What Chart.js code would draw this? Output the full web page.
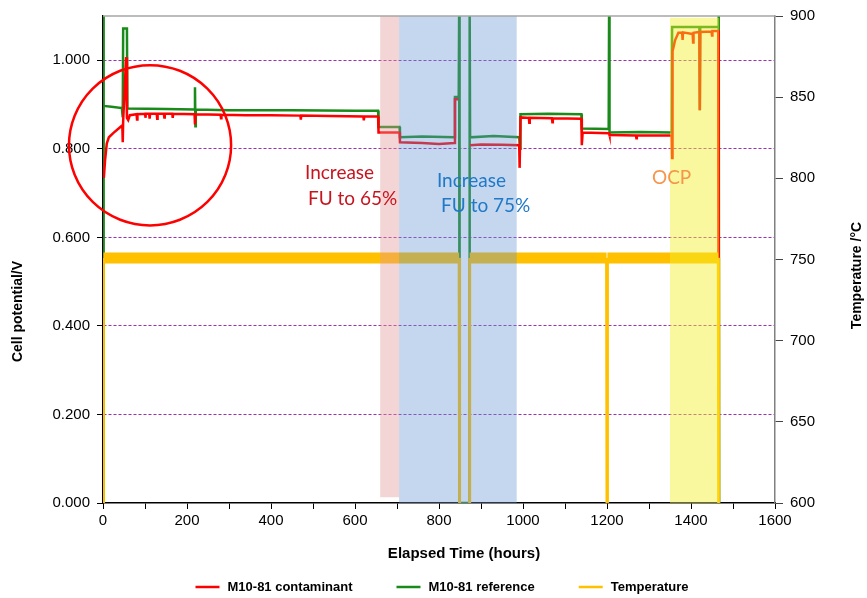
<!DOCTYPE html>
<html>
<head>
<meta charset="utf-8">
<script src="https://cdn.jsdelivr.net/npm/chart.js@4.4.1/dist/chart.umd.min.js"></script>
<style>
  html, body { margin: 0; padding: 0; background: #fff; }
  #chart { display: block; }
</style>
</head>
<body>
<canvas id="chart" width="867" height="598"></canvas>
<script>
// M10-81 contaminant cell potential (V)
const contHours = [
  2, 5, 9, 14, 25, 40, 46, 47, 48, 55,
  57, 60, 64, 80, 81, 82, 100, 101, 102, 110,
  111, 112, 128, 129, 130, 145, 146, 147, 165, 166,
  167, 218, 219, 220, 280, 281, 282, 340, 400, 470,
  471, 472, 540, 620, 621, 622, 655, 656, 706, 707,
  760, 800, 837, 838, 846, 847, 874, 900, 950, 991,
  992, 994, 1014, 1015, 1016, 1069, 1070, 1071, 1139, 1140,
  1142, 1205, 1206, 1269, 1270, 1271, 1354, 1355, 1356, 1362,
  1370, 1379, 1380, 1381, 1400, 1404, 1405, 1406, 1420, 1421,
  1422, 1449, 1450, 1451, 1465, 1466
];
const contVolts = [
  0.734, 0.775, 0.812, 0.826, 0.836, 0.848, 0.853, 0.815, 0.862, 1.007,
  0.870, 0.865, 0.876, 0.878, 0.866, 0.878, 0.879, 0.870, 0.879, 0.879,
  0.868, 0.879, 0.879, 0.868, 0.879, 0.879, 0.871, 0.879, 0.879, 0.870,
  0.879, 0.878, 0.855, 0.878, 0.877, 0.869, 0.877, 0.876, 0.876, 0.875,
  0.866, 0.875, 0.874, 0.873, 0.864, 0.873, 0.873, 0.837, 0.837, 0.815,
  0.813, 0.811, 0.813, 0.912, 0.912, null, 0.808, 0.810, 0.809, 0.808,
  0.757, 0.871, 0.870, 0.859, 0.870, 0.869, 0.860, 0.869, 0.868, 0.808,
  0.837, 0.835, 0.831, 0.830, 0.824, 0.830, 0.830, 0.779, 1.020, 1.045,
  1.062, 1.062, 1.046, 1.063, 1.060, 1.060, 1.040, 1.062, 1.064, 0.887,
  1.064, 1.065, 1.056, 1.066, 1.066, 0.232
];

// M10-81 reference cell potential (V)
const refHours = [
  0, 1, 2, 20, 45, 47, 48, 57, 58, 150,
  218, 219, 220, 221, 300, 450, 600, 655, 656, 706,
  707, 760, 837, 838, 847, 848, 849, 872, 873, 874,
  930, 991, 993, 994, 1060, 1139, 1140, 1204, 1205, 1206,
  1280, 1354, 1355, 1420, 1421, 1422, 1465, 1466, 1467
];
const refVolts = [
  0, 1.12, 0.897, 0.895, 0.892, 0.871, 1.072, 1.072, 0.891, 0.890,
  0.889, 0.939, 0.851, 0.889, 0.887, 0.887, 0.886, 0.886, 0.849, 0.849,
  0.826, 0.828, 0.826, 0.917, 0.917, 1.12, 0, 0, 1.12, 0.826,
  0.829, 0.826, 0.800, 0.878, 0.879, 0.878, 0.846, 0.845, 1.12, 0.837,
  0.838, 0.837, 1.075, 1.075, 0.887, 1.075, 1.075, 1.12, 0
];

// furnace temperature (°C)
const tempHours = [0, 1, 848, 849, 872, 873, 1199, 1200, 1201, 1465, 1466];
const tempValues = [600, 751, 751, 600, 600, 751, 751, 600, 751, 751, 600];

const seriesNames = ['M10-81 contaminant', 'M10-81 reference', 'Temperature'];
const xTickLabels = [0, 200, 400, 600, 800, 1000, 1200, 1400, 1600];

// shaded test periods (hours / volts)
const shadeStart = [660, 705, 1350];
const shadeEnd = [705, 985, 1467];
const shadeLow = [0.013, 0, 0];
const shadeHigh = [1.1, 1.1, 1.096];

// annotation text
const noteLines = ['Increase', 'FU to 65%', 'Increase', 'FU to 75%', 'OCP'];
const noteHours = [481, 488, 795, 805, 1307];
const noteVolts = [0.745, 0.688, 0.727, 0.670, 0.734];

// highlighted start-up region
const circleHour = 112;
const circleVolt = 0.808;
const circleHalfHours = 193;
const circleHalfVolts = 0.181;

const colors = {
  cont: '#ff0000',
  ref: '#1a8a1a',
  temp: '#ffc000',
  grid: '#9b30b0',
  shade: ['rgba(228,150,150,0.4)', 'rgba(100,150,210,0.38)', 'rgba(245,240,40,0.45)'],
  notes: ['#c8141e', '#c8141e', '#1f78c8', '#1f78c8', '#f5964a']
};

const FONT = "'Liberation Sans', Arial, sans-serif";

const toPoints = (xs, ys) => xs.map((h, i) => ({ x: h, y: ys[i] }));

const overlayPlugin = {
  id: 'overlay',
  afterDatasetsDraw(chart) {
    const { ctx, chartArea: a, scales: { x, y } } = chart;
    ctx.save();
    shadeStart.forEach((s, i) => {
      const x0 = x.getPixelForValue(s);
      const x1 = x.getPixelForValue(shadeEnd[i]);
      const y0 = y.getPixelForValue(shadeHigh[i]);
      const y1 = y.getPixelForValue(shadeLow[i]);
      ctx.fillStyle = colors.shade[i];
      ctx.fillRect(x0, y0, x1 - x0, y1 - y0);
    });

    ctx.strokeStyle = '#a6a6a6';
    ctx.lineWidth = 1.5;
    ctx.beginPath();
    ctx.moveTo(a.left, a.top);
    ctx.lineTo(a.right, a.top);
    ctx.stroke();

    const cx = x.getPixelForValue(circleHour);
    const cy = y.getPixelForValue(circleVolt);
    const rx = x.getPixelForValue(circleHour + circleHalfHours) - cx;
    const ry = cy - y.getPixelForValue(circleVolt + circleHalfVolts);
    ctx.strokeStyle = '#ff0000';
    ctx.lineWidth = 2.5;
    ctx.beginPath();
    ctx.ellipse(cx, cy, rx, ry, 0, 0, Math.PI * 2);
    ctx.stroke();

    ctx.font = "19px Lato, 'Open Sans', sans-serif";
    ctx.textBaseline = 'middle';
    ctx.textAlign = 'left';
    noteLines.forEach((t, i) => {
      ctx.fillStyle = colors.notes[i];
      ctx.fillText(t, x.getPixelForValue(noteHours[i]), y.getPixelForValue(noteVolts[i]));
    });
    ctx.restore();
  },
  afterDraw(chart) {
    const { ctx, chartArea: a } = chart;
    ctx.save();
    ctx.fillStyle = '#000';
    ctx.font = 'bold 15px ' + FONT;
    ctx.textAlign = 'center';
    ctx.textBaseline = 'middle';
    ctx.fillText('Elapsed Time (hours)', (a.left + a.right) / 2 + 25, a.bottom + 51);

    ctx.font = 'bold 14px ' + FONT;
    ctx.save();
    ctx.translate(18, (a.top + a.bottom) / 2 + 52);
    ctx.rotate(-Math.PI / 2);
    ctx.fillText('Cell potential/V', 0, 0);
    ctx.restore();

    ctx.save();
    ctx.translate(chart.width - 10, (a.top + a.bottom) / 2 + 16);
    ctx.rotate(-Math.PI / 2);
    ctx.fillText('Temperature /°C', 0, 0);
    ctx.restore();

    // legend
    const legendColors = [colors.cont, colors.ref, colors.temp];
    ctx.font = 'bold 13px ' + FONT;
    const sample = 24, gap = 8, spacing = 44;
    const widths = seriesNames.map(n => sample + gap + ctx.measureText(n).width);
    const total = widths.reduce((s, w) => s + w, 0) + spacing * (widths.length - 1);
    let lx = (a.left + a.right) / 2 + 3 - total / 2;
    const ly = a.bottom + 84;
    ctx.textAlign = 'left';
    seriesNames.forEach((n, i) => {
      ctx.strokeStyle = legendColors[i];
      ctx.lineWidth = 2.5;
      ctx.beginPath();
      ctx.moveTo(lx, ly);
      ctx.lineTo(lx + sample, ly);
      ctx.stroke();
      ctx.fillStyle = '#000';
      ctx.fillText(n, lx + sample + gap, ly);
      lx += widths[i] + spacing;
    });
    ctx.restore();
  }
};

new Chart(document.getElementById('chart'), {
  type: 'line',
  data: {
    datasets: [
      {
        label: seriesNames[2],
        data: toPoints(tempHours, tempValues),
        yAxisID: 'y2',
        borderColor: colors.temp,
        backgroundColor: colors.temp,
        borderWidth: 3,
        segment: {
          borderWidth: ctx => (ctx.p0.parsed.y === ctx.p1.parsed.y && ctx.p0.parsed.y > 700 ? 11 : 3),
          borderColor: ctx => (ctx.p0.parsed.y === ctx.p1.parsed.y && ctx.p0.parsed.y < 700 ? 'rgba(0,0,0,0)' : colors.temp)
        },
        pointRadius: 0,
        clip: 0
      },
      {
        label: seriesNames[0],
        data: toPoints(contHours, contVolts),
        yAxisID: 'y',
        borderColor: colors.cont,
        backgroundColor: colors.cont,
        borderWidth: 2.5,
        pointRadius: 0,
        spanGaps: false,
        clip: 0
      },
      {
        label: seriesNames[1],
        data: toPoints(refHours, refVolts),
        yAxisID: 'y',
        borderColor: colors.ref,
        backgroundColor: colors.ref,
        borderWidth: 2.5,
        pointRadius: 0,
        clip: 0
      }
    ]
  },
  options: {
    responsive: false,
    animation: false,
    events: [],
    layout: { padding: { top: 15, left: 0, right: 0, bottom: 0 } },
    plugins: {
      legend: { display: false },
      tooltip: { enabled: false }
    },
    scales: {
      x: {
        type: 'linear',
        min: 0,
        max: 1600,
        afterFit: s => { s.height = 95; },
        ticks: {
          stepSize: 100,
          maxRotation: 0,
          autoSkip: false,
          padding: 3,
          color: '#000',
          font: { family: FONT, size: 15 },
          callback: v => (xTickLabels.includes(v) ? String(v) : '')
        },
        grid: { drawOnChartArea: false, tickLength: 6, color: '#000' },
        border: { color: '#000', width: 1.5 }
      },
      y: {
        position: 'left',
        min: 0,
        max: 1.1,
        afterFit: s => { s.width = 103; },
        ticks: {
          stepSize: 0.2,
          includeBounds: false,
          padding: 7,
          color: '#000',
          font: { family: FONT, size: 15 },
          callback: v => v.toFixed(3)
        },
        grid: {
          color: c => (c.tick && c.tick.value > 0.01 ? colors.grid : 'rgba(0,0,0,0)'),
          tickColor: '#000',
          tickLength: 6,
          lineWidth: 1
        },
        border: { color: '#000', width: 1.5, dash: [3, 2] }
      },
      y2: {
        position: 'right',
        min: 600,
        max: 900,
        afterFit: s => { s.width = 92; },
        ticks: {
          stepSize: 50,
          padding: 7,
          color: '#000',
          font: { family: FONT, size: 15 }
        },
        grid: { drawOnChartArea: false, tickLength: 8, color: '#444' },
        border: { color: '#808080', width: 1.5 }
      }
    }
  },
  plugins: [overlayPlugin]
});
</script>
</body>
</html>
